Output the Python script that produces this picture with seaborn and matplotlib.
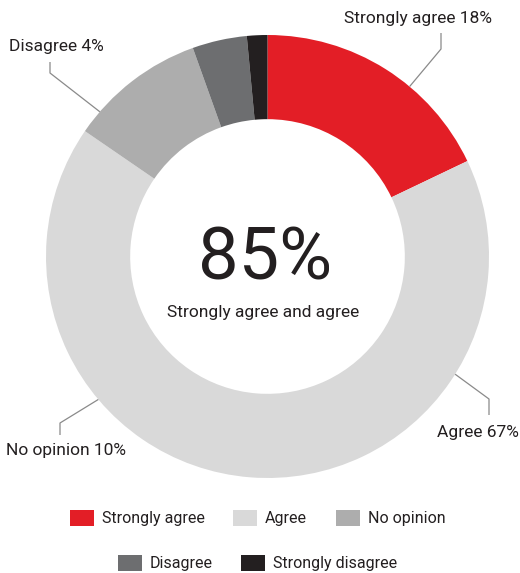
import numpy as np
import matplotlib
matplotlib.use("Agg")
import matplotlib.pyplot as plt
from matplotlib.patches import Patch
import seaborn as sns

# Survey responses (share of respondents, %)
categories = ["Strongly agree", "Agree", "No opinion", "Disagree", "Strongly disagree"]
shares = [18, 67, 10, 4, 1.5]
colors = ["#E31E26", "#D9D9D9", "#ADADAD", "#6D6E70", "#231F20"]
labelled = ["Strongly agree", "Agree", "No opinion", "Disagree"]

sns.set_theme(style="white")
plt.rcParams["font.family"] = ["Roboto", "DejaVu Sans"]
TEXT = "#231F20"
LINE = "#8A8A8A"

W, H = 520, 573
fig = plt.figure(figsize=(W / 100, H / 100), dpi=100)
fig.patch.set_facecolor("white")

# donut geometry (pixels)
CX, CY, R = 267.5, 256.5, 221.5
ax = fig.add_axes([(CX - R) / W, (H - CY - R) / H, 2 * R / W, 2 * R / H])

ax.pie(shares, colors=colors, startangle=90, counterclock=False, radius=1,
       wedgeprops=dict(width=0.38, linewidth=0))
ax.set_xlim(-1, 1)
ax.set_ylim(-1, 1)
ax.set_aspect("equal")
ax.axis("off")


def px(x, y):
    """pixel position -> data coordinates of the donut axes"""
    return (x - CX) / R, (CY - y) / R


def ring(angle_deg):
    a = np.deg2rad(angle_deg)
    return np.sin(a), np.cos(a)


# callouts: ring angle (clockwise from top), elbow, line end, text position
callouts = {
    "Strongly agree": dict(ang=39.9, elbow=(441, 49), end=(441, 33), text=(418.5, 18)),
    "Disagree": dict(ang=310.8, elbow=(50, 73), end=(50, 62), text=(56, 47)),
    "No opinion": dict(ang=229.8, elbow=(60, 423), end=(60, 435), text=(66, 451)),
    "Agree": dict(ang=122.1, elbow=(489, 399), end=(489, 415), text=(478, 432)),
}
for cat in labelled:
    c = callouts[cat]
    val = shares[categories.index(cat)]
    p0 = ring(c["ang"])
    p1 = px(*c["elbow"])
    p2 = px(*c["end"])
    ax.plot([p0[0], p1[0], p2[0]], [p0[1], p1[1], p2[1]], color=LINE, lw=0.9,
            clip_on=False, solid_capstyle="butt")
    tx, ty = px(*c["text"])
    ax.text(tx, ty, f"{cat} {val:g}%", ha="center", va="center", fontsize=12.5,
            color=TEXT, clip_on=False)

# headline in the hole
top_two = shares[0] + shares[1]
hx, hy = px(CX - 2, 260)
ax.text(hx, hy, f"{top_two:g}%", ha="center", va="center", fontsize=52,
        color=TEXT)
sx, sy = px(CX - 4, 313)
ax.text(sx, sy, "Strongly agree and agree", ha="center", va="center",
        fontsize=12.5, color=TEXT)

# legend in two centred rows
handles = [Patch(facecolor=c, edgecolor="none", label=l) for c, l in zip(colors, categories)]
common = dict(frameon=False, fontsize=11.5, handlelength=1.5, handleheight=1.2,
              handletextpad=0.5, columnspacing=1.8, borderpad=0, loc="center",
              labelcolor=TEXT)
fig.legend(handles=handles[:3], ncol=3, bbox_to_anchor=(257.5 / W, 1 - 518 / H), **common)
fig.legend(handles=handles[3:], ncol=2, bbox_to_anchor=(257.5 / W, 1 - 563 / H), **common)

fig.savefig("out.png", dpi=100, facecolor="white")
